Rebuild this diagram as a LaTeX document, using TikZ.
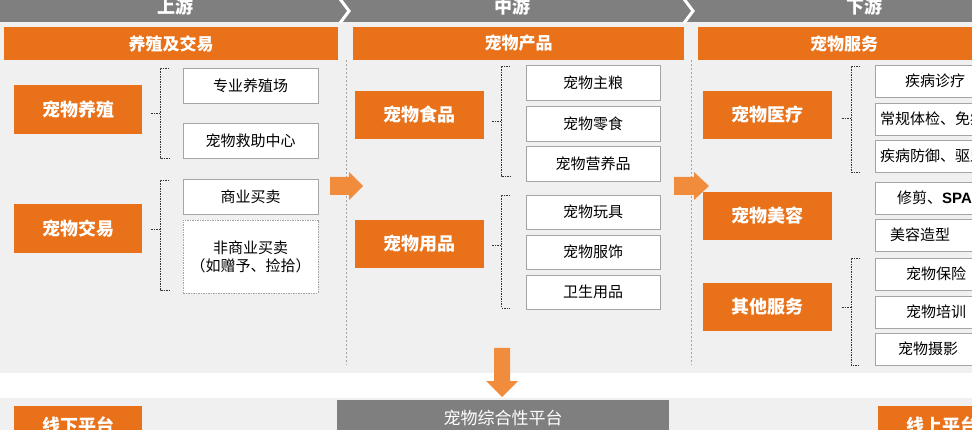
\documentclass[tikz,border=0pt]{standalone}
\usepackage{fontspec}
\setmainfont{Noto Sans CJK SC}
\setsansfont{Liberation Sans}
\begin{document}
\definecolor{org}{HTML}{E8711A}
\definecolor{larr}{HTML}{F08C3C}
\definecolor{gr}{HTML}{7F7F7F}
\definecolor{bg}{HTML}{F0F0F0}
\tikzset{
 obox/.style={fill=org,draw=none,text=white,font=\fontsize{18}{18}\selectfont\bfseries,inner sep=0},
 hbox/.style={fill=org,draw=none,text=white,font=\fontsize{17}{17}\selectfont\bfseries,inner sep=0},
 wbox/.style={fill=white,draw=gr!70,line width=0.8pt,font=\fontsize{15}{18}\selectfont,inner sep=0,align=center},
 gbox/.style={fill=gr,draw=none,text=white,font=\fontsize{16}{16}\selectfont,inner sep=0},
 brk/.style={draw=black!80,dashed,dash pattern=on 1.5pt off 1pt,line width=0.7pt},
 sep/.style={draw=gr!70,dashed,dash pattern=on 2pt off 2pt,line width=0.5pt},
 arr/.style={fill=larr,draw=none}
}
\newcommand{\bx}[7]{\node[#6,minimum width={#4pt-#2pt},minimum height={#5pt-#3pt}] (#1) at ({(#2+#4)/2},{(#3+#5)/2}) {#7};}
\newcommand{\mybrk}[5]{% name x ytop ybot ymid
 \coordinate (#1t) at (#2,#3); \coordinate (#1b) at (#2,#4); \coordinate (#1m) at (#2,#5);
 \draw[brk] ([xshift=9pt]#1t) -- (#1t) -- (#1b) -- ([xshift=9pt]#1b);
 \draw[brk] (#1m) -- ([xshift=-10pt]#1m);}
\begin{tikzpicture}[x=1pt,y=-1pt]
\useasboundingbox (0,0) rectangle (972,430);
\clip (0,0) rectangle (972,430);
\fill[bg] (0,0) rectangle (972,373);
\fill[bg] (0,398) rectangle (972,430);
% top banner
\fill[gr] (0,0) rectangle (972,22);
\draw[white,line width=3pt] (340,-1) -- (349,11) -- (340,23);
\draw[white,line width=3pt] (684,-1) -- (693,11) -- (684,23);
\node[text=white,font=\fontsize{18}{18}\selectfont\bfseries] (u) at (175,7) {上游};
\node[text=white,font=\fontsize{18}{18}\selectfont\bfseries] (m) at (512,7) {中游};
\node[text=white,font=\fontsize{18}{18}\selectfont\bfseries] (d) at (864,7) {下游};
% headers
\bx{h1}{4}{27}{338}{60}{hbox}{养殖及交易}
\bx{h2}{353}{27}{684}{60}{hbox}{宠物产品}
\bx{h3}{698}{27}{990}{60}{hbox}{宠物服务}
% separators
\draw[sep] (346,60) -- (346,365);
\draw[sep] (691,60) -- (691,365);
% left
\bx{a1}{14}{85}{142}{134}{obox}{宠物养殖}
\bx{a2}{14}{204}{142}{253}{obox}{宠物交易}
\bx{w1}{183}{68}{318}{103}{wbox}{专业养殖场}
\bx{w2}{183}{123}{318}{158}{wbox}{宠物救助中心}
\bx{w3}{183}{179}{318}{214}{wbox}{商业买卖}
\bx{w4}{183}{220}{318}{293}{wbox,dashed,dash pattern=on 1.5pt off 1pt}{非商业买卖\\（如赠予、捡拾）}
\mybrk{b1}{160}{68}{158}{113}
\mybrk{b2}{160}{180}{290}{229}
% middle
\bx{c1}{355}{91}{484}{139}{obox}{宠物食品}
\bx{c2}{355}{220}{484}{268}{obox}{宠物用品}
\bx{m1}{526}{65}{660}{100}{wbox}{宠物主粮}
\bx{m2}{526}{106}{660}{141}{wbox}{宠物零食}
\bx{m3}{526}{146}{660}{181}{wbox}{宠物营养品}
\bx{m4}{526}{195}{660}{229}{wbox}{宠物玩具}
\bx{m5}{526}{235}{660}{269}{wbox}{宠物服饰}
\bx{m6}{526}{275}{660}{309}{wbox}{卫生用品}
\mybrk{b3}{501}{66}{176}{121}
\mybrk{b4}{501}{195}{308}{245}
% right
\bx{e1}{703}{91}{832}{139}{obox}{宠物医疗}
\bx{e2}{703}{192}{832}{240}{obox}{宠物美容}
\bx{e3}{703}{283}{832}{331}{obox}{其他服务}
\bx{r1}{875}{65}{1000}{97}{wbox}{}
\bx{r2}{875}{103}{1000}{135}{wbox}{}
\bx{r3}{875}{140}{1000}{172}{wbox}{}
\bx{r4}{875}{182}{1000}{214}{wbox}{}
\bx{r5}{875}{219}{1000}{251}{wbox}{}
\bx{r6}{875}{258}{1000}{290}{wbox}{}
\bx{r7}{875}{296}{1000}{328}{wbox}{}
\bx{r8}{875}{333}{1000}{365}{wbox}{}
\tikzset{rt/.style={anchor=west,font=\fontsize{15}{15}\selectfont,inner sep=0}}
\node[rt] (t1) at (905,81) {疾病诊疗};
\node[rt] (t2) at (880,119) {常规体检、免疫};
\node[rt] (t3) at (880,156) {疾病防御、驱虫};
\node[rt] (t4) at (897,198) {修剪、{\sffamily\bfseries SPA}};
\node[rt] (t5) at (890,235) {美容造型};
\node[rt] (t6) at (906,274) {宠物保险};
\node[rt] (t7) at (906,312) {宠物培训};
\node[rt] (t8) at (898,349) {宠物摄影};
\mybrk{b5}{851}{66}{172}{118}
\mybrk{b6}{851}{258}{365}{307}
% arrows
\fill[arr] (330,177) -- (349,177) -- (349,172) -- (363,186) -- (349,200) -- (349,195) -- (330,195) -- cycle;
\fill[arr] (674,177) -- (694,177) -- (694,172) -- (709,186) -- (694,200) -- (694,195) -- (674,195) -- cycle;
\fill[arr] (494,348) -- (510,348) -- (510,381) -- (518,381) -- (502,397) -- (486,381) -- (494,381) -- cycle;
% bottom
\bx{p1}{337}{400}{669}{450}{gbox}{}
\node[text=white,font=\fontsize{17}{17}\selectfont] (p1t) at (503,418) {宠物综合性平台};
\bx{p2}{14}{406}{142}{455}{obox}{}
\node[text=white,font=\fontsize{18}{18}\selectfont\bfseries] (p2t) at (78,425) {线下平台};
\bx{p3}{878}{406}{1006}{455}{obox}{}
\node[text=white,font=\fontsize{18}{18}\selectfont\bfseries] (p3t) at (942,425) {线上平台};
\end{tikzpicture}
\end{document}
